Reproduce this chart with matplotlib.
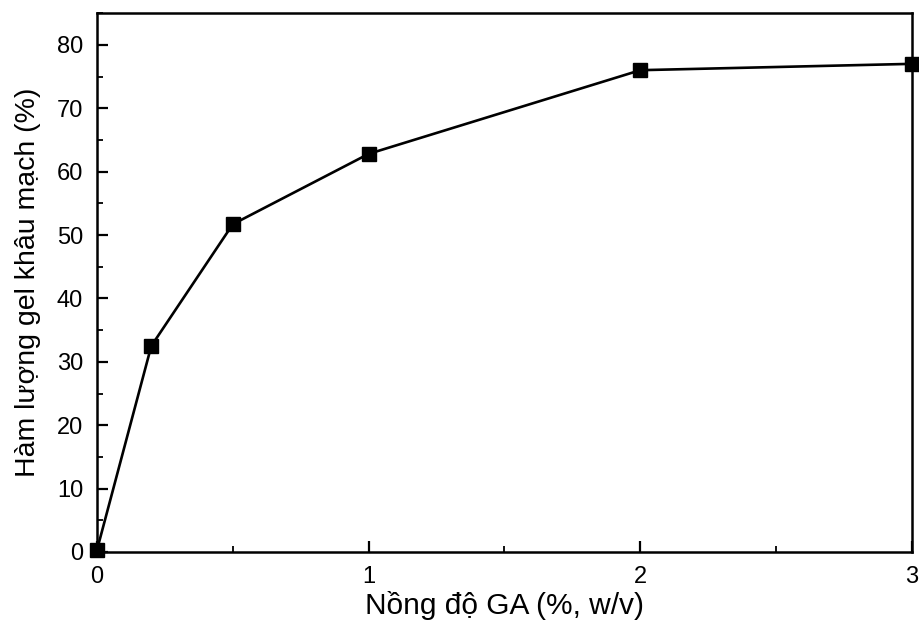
import matplotlib
matplotlib.use('Agg')
import matplotlib.pyplot as plt
from matplotlib.ticker import MultipleLocator

plt.rcParams['font.family'] = ['Liberation Sans', 'DejaVu Sans']

ga_conc = [0, 0.2, 0.5, 1, 2, 3]
gel_content = [0.3, 32.5, 51.7, 62.8, 76.0, 77.0]

fig = plt.figure(figsize=(9.19, 6.25), dpi=100)
ax = fig.add_axes([0.1055, 0.1168, 0.8869, 0.8622])

ax.plot(ga_conc, gel_content, color='black', linewidth=1.9,
        marker='s', markersize=9.5, clip_on=False, zorder=3)

ax.set_xlim(0, 3)
ax.set_ylim(0, 85)
ax.set_xticks([0, 1, 2, 3])
ax.xaxis.set_minor_locator(MultipleLocator(0.5))
ax.set_yticks(range(0, 81, 10))
ax.yaxis.set_minor_locator(MultipleLocator(5))
ax.tick_params(which='major', direction='in', length=8, width=1.6, labelsize=17, pad=10)
ax.tick_params(which='minor', direction='in', length=4, width=1.3)
for s in ax.spines.values():
    s.set_linewidth(1.8)

ax.set_xlabel('Nồng độ GA (%, w/v)', fontsize=21.5, labelpad=2)
ax.set_ylabel('Hàm lượng gel khâu mạch (%)', fontsize=20.5, labelpad=11)

fig.savefig('out.png', dpi=100)
